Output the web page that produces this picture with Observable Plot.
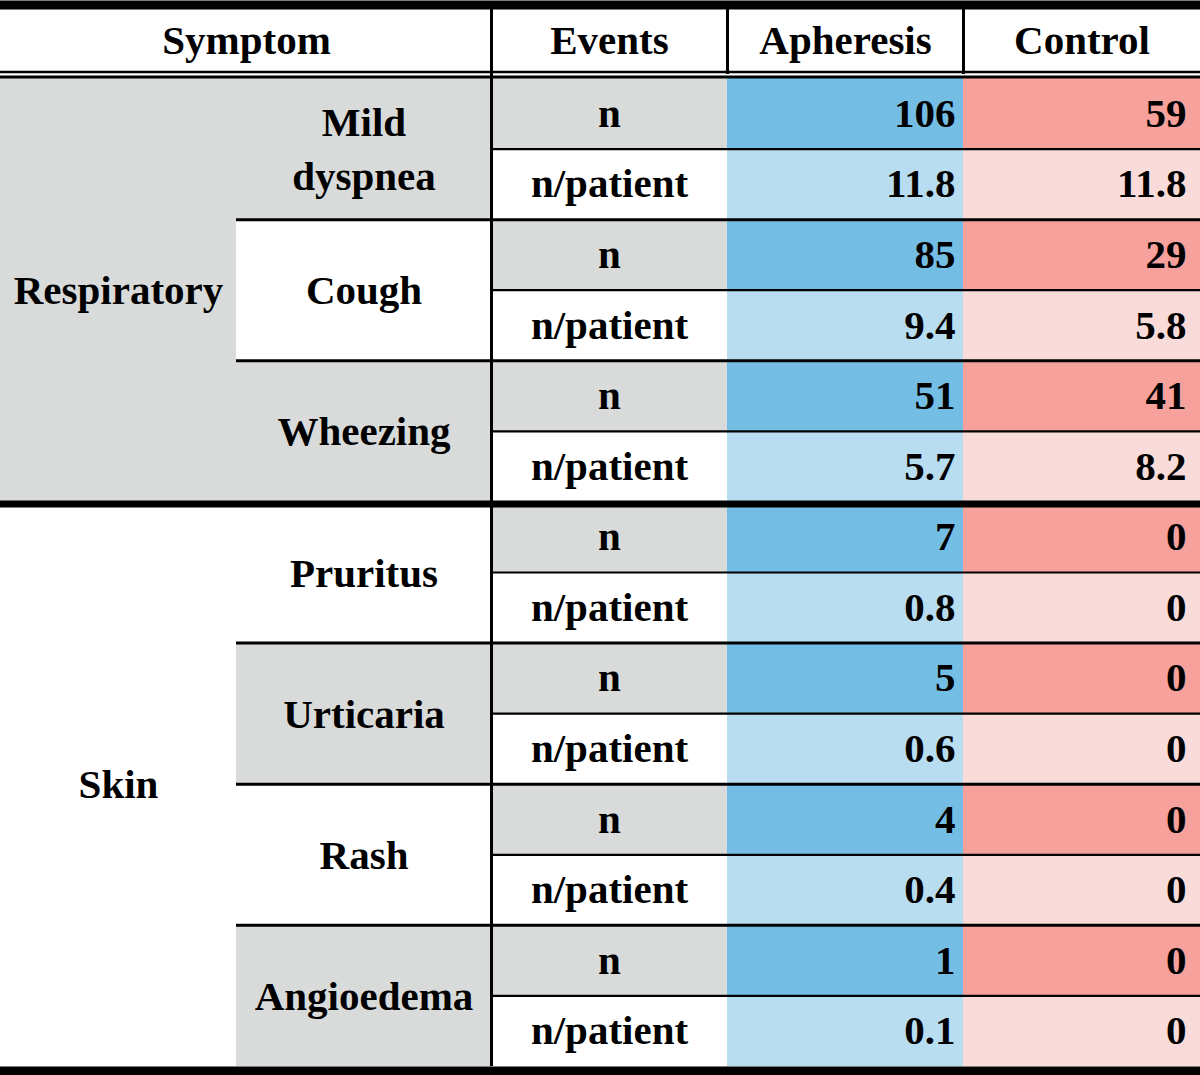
<!DOCTYPE html>
<html>
<head>
<meta charset="utf-8">
<script src="https://cdn.jsdelivr.net/npm/d3@7"></script>
<script src="https://cdn.jsdelivr.net/npm/@observablehq/plot@0.6"></script>
<style>
  html, body { margin: 0; padding: 0; background: #fff; }
  svg { display: block; }
</style>
</head>
<body>
<div id="chart"></div>
<script>
// ---- data ----
const headers = ["Symptom", "Events", "Apheresis", "Control"];
const categories = ["Respiratory", "Skin"];
const symptoms = ["Mild dyspnea", "Cough", "Wheezing", "Pruritus", "Urticaria", "Rash", "Angioedema"];
const symptomCategory = ["Respiratory", "Respiratory", "Respiratory", "Skin", "Skin", "Skin", "Skin"];
const events = ["n", "n/patient"];
const apheresisN = [106, 85, 51, 7, 5, 4, 1];
const apheresisPerPatient = [11.8, 9.4, 5.7, 0.8, 0.6, 0.4, 0.1];
const controlN = [59, 29, 41, 0, 0, 0, 0];
const controlPerPatient = [11.8, 5.8, 8.2, 0, 0, 0, 0];

// ---- colours ----
const GRAY = "#d9dbda", WHITE = "#ffffff";
const BLUE_DARK = "#74bee6", BLUE_LIGHT = "#b8ddf1";
const RED_DARK = "#f6a19b", RED_LIGHT = "#f9dbd9";

// ---- build tables ----
const rows = [];
symptoms.forEach((s, i) => {
  events.forEach((e, j) => {
    rows.push({
      symptom: s, category: symptomCategory[i], event: e, row: 2 * i + j,
      apheresis: j === 0 ? apheresisN[i] : apheresisPerPatient[i],
      control: j === 0 ? controlN[i] : controlPerPatient[i]
    });
  });
});
const symptomBlocks = symptoms.map((s, i) => ({symptom: s, y1: 2 * i, y2: 2 * i + 2, shade: i % 2 === 0}));
const categoryBlocks = categories.map(c => {
  const idx = symptomCategory.map((d, i) => d === c ? i : -1).filter(i => i >= 0);
  return {category: c, y1: 2 * idx[0], y2: 2 * idx[idx.length - 1] + 2, shade: c === "Respiratory"};
});
const headerFirst = [{label: headers[0], x: 1}];
const headerRest = headers.slice(1).map((h, i) => ({label: h, x: i + 2.5}));
const nRows = rows.length;
const splitRows = rows.filter(d => d.event === "n/patient").map(d => d.row);
const symptomBoundaries = symptomBlocks.slice(1).map(d => d.y1)
  .filter(y => !categoryBlocks.some(c => c.y1 === y));
const categoryBoundaries = categoryBlocks.slice(1).map(c => c.y1);

const font = {fontFamily: "Liberation Serif", fontWeight: "bold", fontSize: 41, fill: "#000"};

const chart = Plot.plot({
  width: 1200,
  height: 1075,
  margin: 0,
  x: {type: "linear", domain: [0, 1, 2, 3, 4, 5], range: [0, 236, 491, 727, 963, 1200], axis: null},
  y: {type: "linear", domain: [-1, 0, nRows], range: [9, 78, 1066], axis: null},
  color: {type: "identity"},
  marks: [
    // cell backgrounds
    Plot.rect(categoryBlocks, {x1: 0, x2: 1, y1: "y1", y2: "y2", fill: d => d.shade ? GRAY : WHITE}),
    Plot.rect(symptomBlocks, {x1: 1, x2: 2, y1: "y1", y2: "y2", fill: d => d.shade ? GRAY : WHITE}),
    Plot.rect(rows, {x1: 2, x2: 3, y1: "row", y2: d => d.row + 1, fill: d => d.event === "n" ? GRAY : WHITE}),
    Plot.rect(rows, {x1: 3, x2: 4, y1: "row", y2: d => d.row + 1, fill: d => d.event === "n" ? BLUE_DARK : BLUE_LIGHT}),
    Plot.rect(rows, {x1: 4, x2: 5, y1: "row", y2: d => d.row + 1, fill: d => d.event === "n" ? RED_DARK : RED_LIGHT}),

    // horizontal rules
    Plot.ruleY(splitRows, {x1: 2, x2: 5, stroke: "#000", strokeWidth: 2.2}),
    Plot.ruleY(symptomBoundaries, {x1: 1, x2: 5, stroke: "#000", strokeWidth: 3}),
    Plot.ruleY(categoryBoundaries, {x1: 0, x2: 5, stroke: "#000", strokeWidth: 7, dy: 2}),
    Plot.ruleY([-1], {x1: 0, x2: 5, stroke: "#000", strokeWidth: 9, dy: -4.5}),
    Plot.ruleY([0], {x1: 0, x2: 5, stroke: "#000", strokeWidth: 2.5, dy: -6.5}),
    Plot.ruleY([0], {x1: 0, x2: 5, stroke: "#000", strokeWidth: 3, dy: -1.5}),
    Plot.ruleY([nRows], {x1: 0, x2: 5, stroke: "#000", strokeWidth: 9, dy: 4.5}),

    // vertical rules
    Plot.ruleX([2], {y1: -1, y2: nRows, stroke: "#000", strokeWidth: 3}),
    Plot.ruleX([3, 4], {y1: -1, y2: 0, stroke: "#000", strokeWidth: 3, dy: -4}),

    // header
    Plot.text(headerFirst, {x: "x", y: -0.55, text: "label", dx: 10, ...font}),
    Plot.text(headerRest, {x: "x", y: -0.55, text: "label", ...font}),

    // body labels
    Plot.text(categoryBlocks, {x: 0.5, y: d => (d.y1 + d.y2) / 2, text: "category", dy: 1, ...font}),
    Plot.text(symptomBlocks, {x: 1.5, y: d => (d.y1 + d.y2) / 2, text: d => d.symptom.split(" ").join("\n"), lineHeight: 1.3, dy: -3, ...font}),
    Plot.text(rows, {x: 2.5, y: d => d.row + 0.5, text: "event", ...font}),
    Plot.text(rows, {x: 4, y: d => d.row + 0.5, text: d => String(d.apheresis), textAnchor: "end", dx: -8, ...font}),
    Plot.text(rows, {x: 5, y: d => d.row + 0.5, text: d => String(d.control), textAnchor: "end", dx: -14, ...font})
  ]
});
document.getElementById("chart").appendChild(chart);
</script>
</body>
</html>
